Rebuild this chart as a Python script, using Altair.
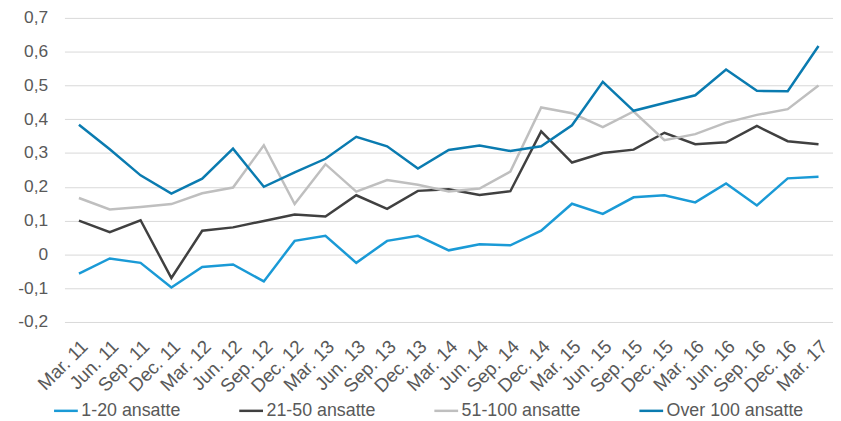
import altair as alt
import pandas as pd

quarters = ["Mar. 11", "Jun. 11", "Sep. 11", "Dec. 11", "Mar. 12", "Jun. 12", "Sep. 12", "Dec. 12",
            "Mar. 13", "Jun. 13", "Sep. 13", "Dec. 13", "Mar. 14", "Jun. 14", "Sep. 14", "Dec. 14",
            "Mar. 15", "Jun. 15", "Sep. 15", "Dec. 15", "Mar. 16", "Jun. 16", "Sep. 16", "Dec. 16",
            "Mar. 17"]

series_names = ["1-20 ansatte", "21-50 ansatte", "51-100 ansatte", "Over 100 ansatte"]

s_1_20 = [-0.057, -0.012, -0.025, -0.098, -0.037, -0.030, -0.080, 0.040,
          0.055, -0.025, 0.040, 0.055, 0.012, 0.030, 0.027, 0.070,
          0.150, 0.120, 0.169, 0.175, 0.154, 0.210, 0.145, 0.225,
          0.230]
s_21_50 = [0.100, 0.066, 0.101, -0.070, 0.070, 0.080, 0.099, 0.118,
           0.112, 0.175, 0.135, 0.188, 0.193, 0.176, 0.187, 0.364,
           0.272, 0.300, 0.310, 0.360, 0.326, 0.332, 0.380, 0.335,
           0.326]
s_51_100 = [0.167, 0.133, 0.140, 0.149, 0.181, 0.198, 0.323, 0.149,
            0.267, 0.186, 0.220, 0.206, 0.186, 0.195, 0.245, 0.435,
            0.418, 0.377, 0.423, 0.338, 0.356, 0.390, 0.413, 0.430,
            0.500]
s_over_100 = [0.384, 0.311, 0.234, 0.180, 0.224, 0.313, 0.200, 0.243,
              0.283, 0.348, 0.320, 0.254, 0.309, 0.322, 0.306, 0.320,
              0.382, 0.511, 0.425, 0.448, 0.471, 0.547, 0.484, 0.483,
              0.617]

colors = ["#1a9ad6", "#404040", "#bfbfbf", "#0a7bb0"]

rows = []
for name, vals in zip(series_names, [s_1_20, s_21_50, s_51_100, s_over_100]):
    for q, v in zip(quarters, vals):
        rows.append({"Kvartal": q, "Serie": name, "Verdi": v})
df = pd.DataFrame(rows)

font = "Liberation Sans"
txt = "#595959"

chart = alt.Chart(df).mark_line(strokeWidth=2.5).encode(
    x=alt.X("Kvartal:N", sort=quarters,
            scale=alt.Scale(type="point", padding=0.47),
            axis=alt.Axis(title=None, labelAngle=-45, labelAlign="right", labelBaseline="top",
                          labelPadding=15, labelOffset=-1, ticks=False, domain=False, grid=False,
                          labelFont=font, labelFontSize=19, labelColor=txt)),
    y=alt.Y("Verdi:Q",
            scale=alt.Scale(domain=[-0.2, 0.7], nice=False, zero=False),
            axis=alt.Axis(title=None, values=[-0.2, -0.1, 0, 0.1, 0.2, 0.3, 0.4, 0.5, 0.6, 0.7],
                          labelExpr="replace(replace(format(datum.value, '.1~f'), '.', ','), '\u2212', '-')",
                          ticks=False, domain=False, labelPadding=17,
                          gridColor="#d9d9d9", gridWidth=1,
                          labelFont=font, labelFontSize=17.5, labelColor=txt)),
    color=alt.Color("Serie:N", sort=series_names,
                    scale=alt.Scale(domain=series_names, range=colors),
                    legend=alt.Legend(title=None, orient="none", direction="horizontal",
                                      legendX=-12, legendY=383,
                                      symbolType="stroke", symbolSize=576, symbolStrokeWidth=2.5,
                                      labelOffset=2, columnPadding=53,
                                      labelFont=font, labelFontSize=18, labelColor=txt)),
).properties(
    width=776, height=307,
    autosize=alt.AutoSizeParams(type="none"),
    padding={"left": 57, "top": 8, "right": 0, "bottom": 98},
).configure_view(stroke=None)

chart.save("out.html", embed_options={"renderer": "svg", "actions": False})
